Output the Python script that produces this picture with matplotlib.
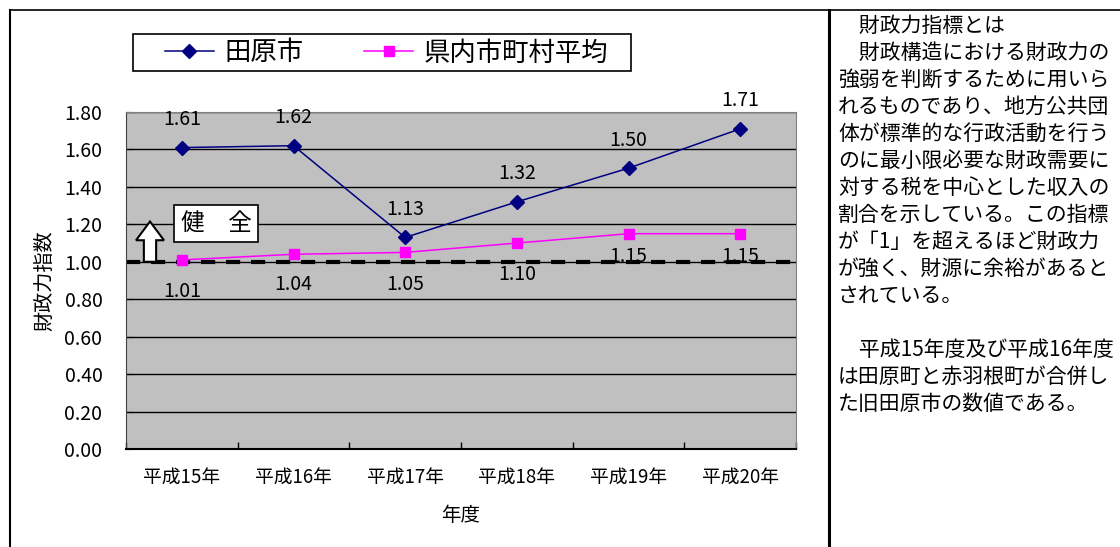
import matplotlib
matplotlib.use("Agg")
import matplotlib.pyplot as plt
from matplotlib.lines import Line2D
from matplotlib.patches import Polygon, Rectangle
import numpy as np

plt.rcParams['font.family'] = ['Noto Sans CJK JP', 'DejaVu Sans']

# ---- data ----
categories = ["平成15年", "平成16年", "平成17年", "平成18年", "平成19年", "平成20年"]
tahara = [1.61, 1.62, 1.13, 1.32, 1.50, 1.71]
pref_avg = [1.01, 1.04, 1.05, 1.10, 1.15, 1.15]
series_names = ["田原市", "県内市町村平均"]
yticks = [0.0, 0.2, 0.4, 0.6, 0.8, 1.0, 1.2, 1.4, 1.6, 1.8]
ylabel = "財政力指数"
xlabel = "年度"
baseline = 1.0
note_lines = [
    "　財政力指標とは",
    "　財政構造における財政力の",
    "強弱を判断するために用いら",
    "れるものであり、地方公共団",
    "体が標準的な行政活動を行う",
    "のに最小限必要な財政需要に",
    "対する税を中心とした収入の",
    "割合を示している。この指標",
    "が「1」を超えるほど財政力",
    "が強く、財源に余裕があると",
    "されている。",
    "",
    "　平成15年度及び平成16年度",
    "は田原町と赤羽根町が合併し",
    "た旧田原市の数値である。",
]

W, H = 1120, 547
fig = plt.figure(figsize=(W / 100, H / 100), dpi=100)

def fx(px):
    return px / W

def fy(py):
    return 1 - py / H

# plot area
AX_L, AX_R, AX_T, AX_B = 126, 796, 112, 449
ax = fig.add_axes([fx(AX_L), fy(AX_B), fx(AX_R) - fx(AX_L), fy(AX_T) - fy(AX_B)])
ax.set_facecolor('#C0C0C0')
x = np.arange(len(categories))
ax.set_xlim(-0.5, len(categories) - 0.5)
ax.set_ylim(0, 1.8)
ax.set_yticks(yticks)
ax.set_yticklabels([f"{v:.2f}" for v in yticks])
ax.yaxis.grid(True, color='black', linewidth=1.0)
ax.set_axisbelow(True)
ax.set_xticks(x)
ax.set_xticklabels(categories)
ax.set_xticks(np.arange(len(categories) + 1) - 0.5, minor=True)
ax.tick_params(axis='x', which='major', length=0, pad=13, labelsize=13.5)
ax.tick_params(axis='x', which='minor', length=5, direction='in', width=1)
ax.tick_params(axis='y', length=5, direction='in', pad=17, labelsize=14)
num_font = ['Liberation Sans Narrow', 'Noto Sans CJK JP']
for lab in ax.get_yticklabels():
    lab.set_family(num_font)
for s in ['top', 'right']:
    ax.spines[s].set_color('#808080')
ax.spines['left'].set_color('#404040')
ax.spines['bottom'].set_color('black')
ax.spines['bottom'].set_linewidth(1.5)

# baseline dashed
ax.axhline(baseline, color='black', linewidth=3, dashes=(3.4, 2.6), zorder=2)

# series
l1, = ax.plot(x, tahara, color='#000080', linewidth=1.1, marker='D', markersize=7.5,
              markerfacecolor='#000080', markeredgecolor='#000080', zorder=4)
l2, = ax.plot(x, pref_avg, color='#FF00FF', linewidth=1.1, marker='s', markersize=7.5,
              markerfacecolor='#FF00FF', markeredgecolor='#FF00FF', zorder=3)

pref_dy_px = [32, 30, 32, 31, 23, 23]
for xi, v in zip(x, tahara):
    ax.annotate(f"{v:.2f}", (xi, v), xytext=(0, 28 * 0.72), textcoords='offset points',
                ha='center', va='center', fontsize=14, family=num_font, zorder=5)
for xi, v, dy in zip(x, pref_avg, pref_dy_px):
    ax.annotate(f"{v:.2f}", (xi, v), xytext=(0, -dy * 0.72), textcoords='offset points',
                ha='center', va='center', fontsize=14, family=num_font, zorder=5)

# arrow "健全"
ax_cx = -0.5 + (150 - AX_L) / 111.67
poly = Polygon([[ax_cx - 0.055, baseline], [ax_cx - 0.055, 1.115], [ax_cx - 0.125, 1.115],
                [ax_cx, 1.215], [ax_cx + 0.125, 1.115], [ax_cx + 0.055, 1.115],
                [ax_cx + 0.055, baseline]],
               closed=True, facecolor='white', edgecolor='black', linewidth=1.5, zorder=3)
ax.add_patch(poly)
ax.text(0.31, 1.205, "健　全", ha='center', va='center', fontsize=17, zorder=6,
        bbox=dict(boxstyle='square,pad=0.28', facecolor='white', edgecolor='black', linewidth=1.2))

ax.set_ylabel(ylabel, fontsize=14.5)
ax.yaxis.set_label_coords((55 - AX_L) / (AX_R - AX_L), 0.5)
ax.set_xlabel(xlabel, fontsize=14)
ax.xaxis.set_label_coords(0.5, (AX_B - 505) / (AX_B - AX_T))

# legend (frame drawn as a rectangle)
fig.add_artist(Rectangle((fx(133), fy(71)), fx(631) - fx(133), fy(34) - fy(71),
                         transform=fig.transFigure, facecolor='white', edgecolor='black',
                         linewidth=1.2))
leg = fig.legend([l1, l2], series_names, loc='center left',
                 bbox_to_anchor=(fx(165), fy(53)),
                 ncol=2, frameon=False, fontsize=19,
                 handlelength=1.85, handletextpad=0.4, columnspacing=2.3,
                 borderpad=0, borderaxespad=0)

# borders
fig.add_artist(Line2D([fx(10), fx(10)], [fy(10), 0], color='black', linewidth=1.5))
fig.add_artist(Line2D([fx(10), 1], [fy(10), fy(10)], color='black', linewidth=1.2))
fig.add_artist(Line2D([fx(829), fx(829)], [fy(10), 0], color='black', linewidth=2.2))

# note text
y0 = 26
for i, line in enumerate(note_lines):
    fig.text(fx(838), fy(y0 + i * 27), line, ha='left', va='center', fontsize=15)

fig.savefig("out.png", dpi=100)
